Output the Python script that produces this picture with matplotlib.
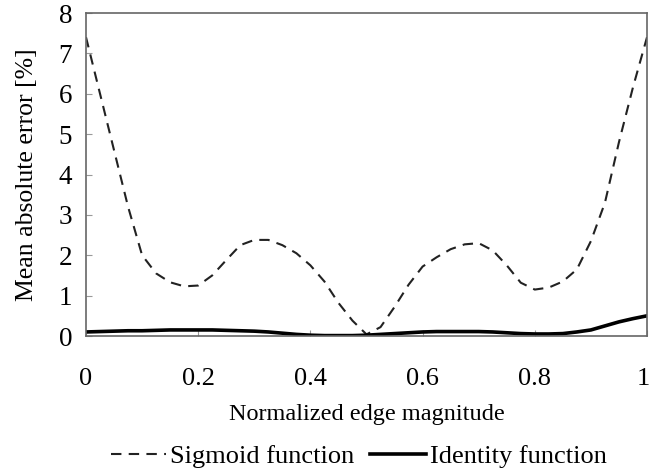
import matplotlib
matplotlib.use("Agg")
import matplotlib.pyplot as plt
import matplotlib.transforms as mtransforms

plt.rcParams['font.family'] = ['Liberation Serif', 'DejaVu Serif']

x = [0.000, 0.025, 0.050, 0.075, 0.100, 0.125, 0.150, 0.175, 0.200, 0.225,
     0.250, 0.275, 0.300, 0.325, 0.350, 0.375, 0.400, 0.425, 0.450, 0.475,
     0.500, 0.525, 0.550, 0.575, 0.600, 0.625, 0.650, 0.675, 0.700, 0.725,
     0.750, 0.775, 0.800, 0.825, 0.850, 0.875, 0.900, 0.925, 0.950, 0.975, 1.000]
sigmoid = [7.40, 6.00, 4.60, 3.20, 2.00, 1.55, 1.33, 1.23, 1.25, 1.50,
           1.88, 2.25, 2.38, 2.38, 2.25, 2.05, 1.75, 1.35, 0.82, 0.38,
           0.04, 0.22, 0.72, 1.27, 1.72, 1.95, 2.15, 2.27, 2.30, 2.12,
           1.75, 1.32, 1.15, 1.20, 1.35, 1.65, 2.35, 3.30, 4.80, 6.16, 7.40]
identity = [0.10, 0.11, 0.12, 0.13, 0.13, 0.14, 0.15, 0.15, 0.15, 0.15,
            0.14, 0.13, 0.12, 0.10, 0.07, 0.04, 0.02, 0.01, 0.01, 0.01,
            0.02, 0.04, 0.06, 0.08, 0.10, 0.11, 0.11, 0.11, 0.11, 0.10,
            0.08, 0.06, 0.05, 0.05, 0.06, 0.10, 0.15, 0.25, 0.35, 0.43, 0.50]
xticks = [0, 0.2, 0.4, 0.6, 0.8, 1]
xticklabels = ['0', '0.2', '0.4', '0.6', '0.8', '1']
yticks = [0, 1, 2, 3, 4, 5, 6, 7, 8]

fig = plt.figure(figsize=(6.52, 4.73), dpi=100)
ax = fig.add_axes([86/652, 1-336/473, (647-86)/652, (336-13)/473])
ax.plot(x, sigmoid, color='#222222', lw=1.5, dashes=(5, 3.5), label='Sigmoid function')
ax.plot(x, identity, color='black', lw=2.6, label='Identity function')
ax.set_xlim(0, 1)
ax.set_ylim(0, 8)
ax.set_xticks(xticks)
ax.set_xticklabels(xticklabels)
ax.set_yticks(yticks)
ax.tick_params(direction='in', length=4, width=0.8, color='#999999')
ax.tick_params(axis='x', labelsize=19, pad=23)
ax.tick_params(axis='y', labelsize=19.5, pad=10)
last = ax.get_xticklabels()[-1]
last.set_transform(last.get_transform() + mtransforms.ScaledTranslation(-4/100, 0, fig.dpi_scale_trans))
for s in ax.spines.values():
    s.set_color('#666666')
    s.set_linewidth(1.2)
ax.set_xlabel('Normalized edge magnitude', fontsize=17.5, labelpad=10)
ax.set_ylabel('Mean absolute error [%]', fontsize=18.5, labelpad=15)
leg = fig.legend(loc='lower center', bbox_to_anchor=(0.55, -0.04), ncol=2, frameon=False,
                 fontsize=19, handlelength=2.1, columnspacing=0.6, handletextpad=0.15)
fig.savefig('out.png', dpi=100)
